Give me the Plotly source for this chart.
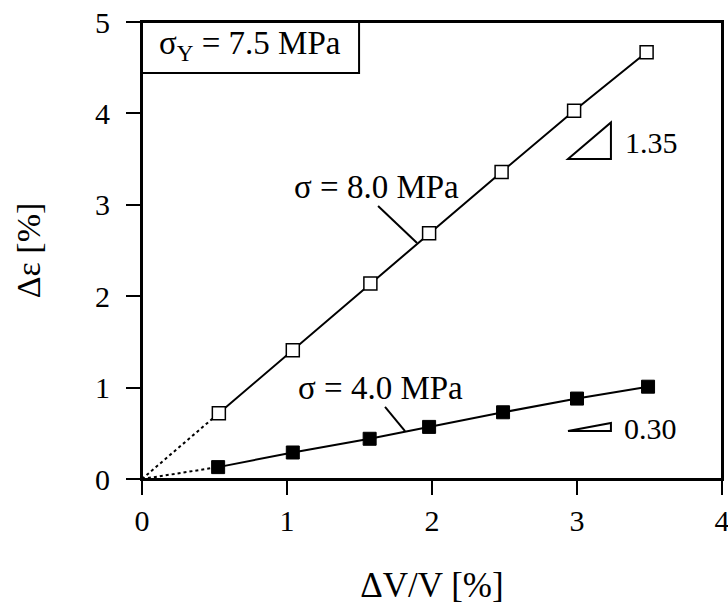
import plotly.graph_objects as go

# data
x_open = [0.53, 1.04, 1.575, 1.98, 2.48, 2.98, 3.48]
y_open = [0.72, 1.41, 2.14, 2.69, 3.36, 4.03, 4.67]
x_fill = [0.525, 1.04, 1.57, 1.98, 2.49, 3.00, 3.49]
y_fill = [0.13, 0.29, 0.44, 0.57, 0.73, 0.88, 1.01]
x_ticks = [0, 1, 2, 3, 4]
y_ticks = [0, 1, 2, 3, 4, 5]
slope_hi = 1.35
slope_lo = 0.30

FONT = "Liberation Serif"
fig = go.Figure()

# dotted extrapolation to origin
fig.add_trace(go.Scatter(x=[0, x_open[0]], y=[0, y_open[0]], mode="lines",
                         line=dict(color="black", width=2, dash="dot"), showlegend=False))
fig.add_trace(go.Scatter(x=[0, x_fill[0]], y=[0, y_fill[0]], mode="lines",
                         line=dict(color="black", width=2, dash="dot"), showlegend=False))

fig.add_trace(go.Scatter(x=x_open, y=y_open, mode="lines+markers",
                         line=dict(color="black", width=2),
                         marker=dict(symbol="square", size=13, color="white",
                                     line=dict(color="black", width=1.5)),
                         showlegend=False))
fig.add_trace(go.Scatter(x=x_fill, y=y_fill, mode="lines+markers",
                         line=dict(color="black", width=2),
                         marker=dict(symbol="square", size=13, color="black",
                                     line=dict(color="black", width=1)),
                         showlegend=False))

shapes = []
# plot frame
shapes.append(dict(type="rect", xref="paper", yref="paper", x0=0, x1=1, y0=0, y1=1,
                   line=dict(color="black", width=2), layer="above"))
# sigma_Y box
shapes.append(dict(type="rect", xref="x", yref="y", x0=0, x1=1.497, y0=4.442, y1=5.0,
                   line=dict(color="black", width=2), fillcolor="white", layer="above"))
# slope triangles
bx0, bx1 = 2.938, 3.234
yb = 3.501
shapes.append(dict(type="path", xref="x", yref="y",
                   path=f"M {bx0},{yb} L {bx1},{yb} L {bx1},{yb + slope_hi * (bx1 - bx0)} Z",
                   line=dict(color="black", width=2)))
yb2 = 0.525
shapes.append(dict(type="path", xref="x", yref="y",
                   path=f"M {bx0},{yb2} L {bx1},{yb2} L {bx1},{yb2 + slope_lo * (bx1 - bx0)} Z",
                   line=dict(color="black", width=2)))
# leader lines
shapes.append(dict(type="line", xref="x", yref="y", x0=1.628, y0=2.987, x1=1.897, y1=2.582,
                   line=dict(color="black", width=2)))
shapes.append(dict(type="line", xref="x", yref="y", x0=1.676, y0=0.788, x1=1.814, y1=0.525,
                   line=dict(color="black", width=2)))

ann = []
ann.append(dict(x=0.745, y=4.74, xref="x", yref="y", text="σ<sub>Y</sub> = 7.5 MPa",
                showarrow=False, font=dict(family=FONT, size=33, color="black")))
ann.append(dict(x=1.614, y=3.195, xref="x", yref="y", text="σ = 8.0 MPa",
                showarrow=False, font=dict(family=FONT, size=33, color="black")))
ann.append(dict(x=1.648, y=0.996, xref="x", yref="y", text="σ = 4.0 MPa",
                showarrow=False, font=dict(family=FONT, size=33, color="black")))
ann.append(dict(x=3.317, y=3.687, xref="x", yref="y", text=f"{slope_hi:.2f}", xanchor="left",
                showarrow=False, font=dict(family=FONT, size=30, color="black")))
ann.append(dict(x=3.310, y=0.558, xref="x", yref="y", text=f"{slope_lo:.2f}", xanchor="left",
                showarrow=False, font=dict(family=FONT, size=30, color="black")))

axis_common = dict(showgrid=False, zeroline=False, ticks="outside", ticklen=14, tickwidth=2,
                   tickcolor="black", linecolor="black", linewidth=2, mirror=True,
                   automargin=False, ticklabeloverflow="allow",
                   tickfont=dict(family=FONT, size=30, color="black"))

fig.update_layout(
    width=728, height=609,
    margin=dict(l=142, r=6, t=22, b=130),
    plot_bgcolor="white", paper_bgcolor="white",
    shapes=shapes, annotations=ann,
    xaxis=dict(range=[0, 4], tickvals=x_ticks, ticktext=[str(v) for v in x_ticks],
               title=dict(text="ΔV/V [%]", font=dict(family=FONT, size=35, color="black"), standoff=36),
               ticklabelstandoff=0,
               **axis_common),
    yaxis=dict(range=[0, 5], tickvals=y_ticks, ticktext=[str(v) for v in y_ticks],
               title=dict(text="Δε [%]", font=dict(family=FONT, size=34, color="black"), standoff=44),
               ticklabelstandoff=10,
               **axis_common),
)

# remove the default page margin so the figure fills the window exactly
fig.write_html("out.html", config={"displayModeBar": False},
               post_script="document.body.style.margin='0';document.body.style.overflow='hidden';")
